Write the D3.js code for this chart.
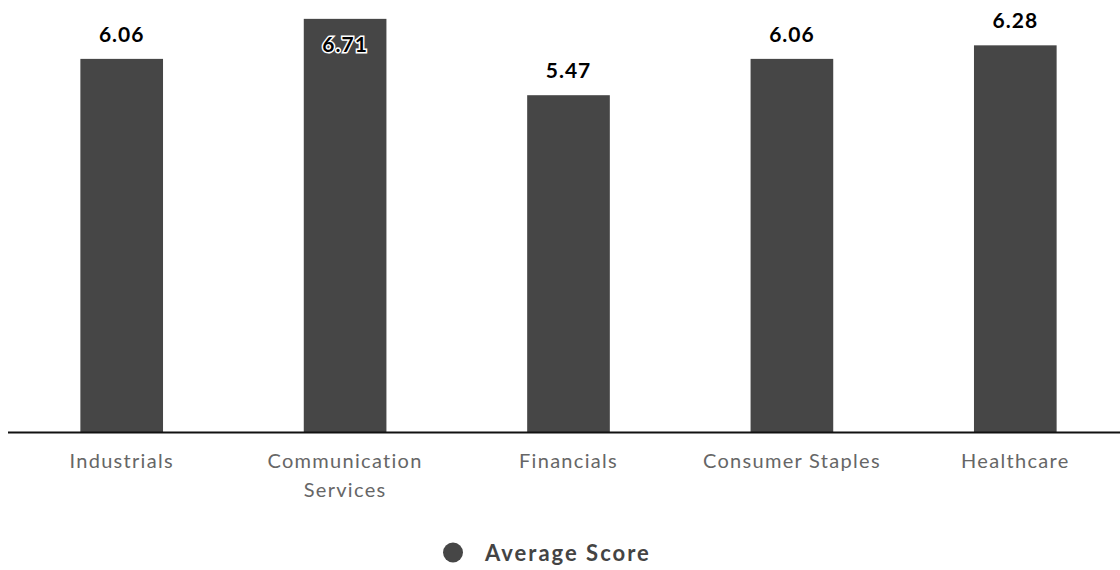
<!DOCTYPE html>
<html>
<head>
<meta charset="utf-8">
<script src="https://cdn.jsdelivr.net/npm/d3@7"></script>
<style>
  html, body { margin: 0; padding: 0; background: #fff; }
  svg { display: block; }
</style>
</head>
<body>
<svg id="chart" width="1120" height="570"></svg>
<script>
// Sector scores
const categories = ["Industrials", "Communication Services", "Financials", "Consumer Staples", "Healthcare"];
const averageScore = [6.06, 6.71, 5.47, 6.06, 6.28];
const seriesName = "Average Score";

const W = 1120, H = 570;
const baseY = 432;
const barColor = "#464646";
const font = "Lato, 'Open Sans', sans-serif";

const svg = d3.select("#chart");

const x = d3.scaleBand()
  .domain(categories)
  .range([10, 1127])
  .paddingInner(0.63)
  .paddingOuter(0.315);

const y = d3.scaleLinear().domain([0, 7]).range([baseY, 1]);

const data = categories.map((c, i) => ({ cat: c, v: averageScore[i] }));

// bars
svg.append("g").selectAll("rect")
  .data(data).join("rect")
  .attr("x", d => x(d.cat))
  .attr("y", d => y(d.v))
  .attr("width", x.bandwidth())
  .attr("height", d => baseY - y(d.v))
  .attr("fill", barColor);

// x axis
const xAxis = svg.append("g")
  .attr("transform", `translate(0,${baseY})`)
  .call(d3.axisBottom(x).tickSize(0).tickSizeOuter(0).tickFormat(""));
xAxis.select(".domain").remove();
svg.append("line")
  .attr("x1", 8).attr("x2", W)
  .attr("y1", baseY + 0.5).attr("y2", baseY + 0.5)
  .attr("stroke", "#111").attr("stroke-width", 2);

// category labels, wrapped on two lines when long
const labelG = svg.append("g");
data.forEach(d => {
  const words = d.cat.split(" ");
  const lines = d.cat.length > 18 ? words : [d.cat];
  const cx = x(d.cat) + x.bandwidth() / 2;
  const t = labelG.append("text")
    .attr("x", cx)
    .attr("y", 468)
    .attr("text-anchor", "middle")
    .attr("font-family", font)
    .attr("font-size", 20)
    .attr("letter-spacing", 1.3)
    .attr("fill", "#666");
  lines.forEach((ln, i) => {
    t.append("tspan")
      .attr("x", cx)
      .attr("dy", i === 0 ? 0 : 29)
      .text(ln);
  });
});

// value labels (moved inside the bar when there is no room above)
const inside = d => y(d.v) - 17 < 24;
svg.append("g").selectAll("text")
  .data(data).join("text")
  .attr("x", d => x(d.cat) + x.bandwidth() / 2)
  .attr("y", d => inside(d) ? y(d.v) + 33.5 : y(d.v) - 17)
  .attr("text-anchor", "middle")
  .attr("font-family", font)
  .attr("font-weight", 700)
  .attr("font-size", 21)
  .attr("letter-spacing", 1)
  .attr("fill", "#000")
  .attr("stroke", d => inside(d) ? "#fff" : "none")
  .attr("stroke-width", 3)
  .attr("paint-order", "stroke")
  .text(d => d3.format(".2f")(d.v));

// legend
const lg = svg.append("g");
lg.append("circle").attr("cx", 453).attr("cy", 552.5).attr("r", 10).attr("fill", barColor);
lg.append("text")
  .attr("x", 485).attr("y", 561)
  .attr("font-family", font)
  .attr("font-weight", 700)
  .attr("font-size", 22)
  .attr("letter-spacing", 2)
  .attr("fill", "#444")
  .text(seriesName);
</script>
</body>
</html>
